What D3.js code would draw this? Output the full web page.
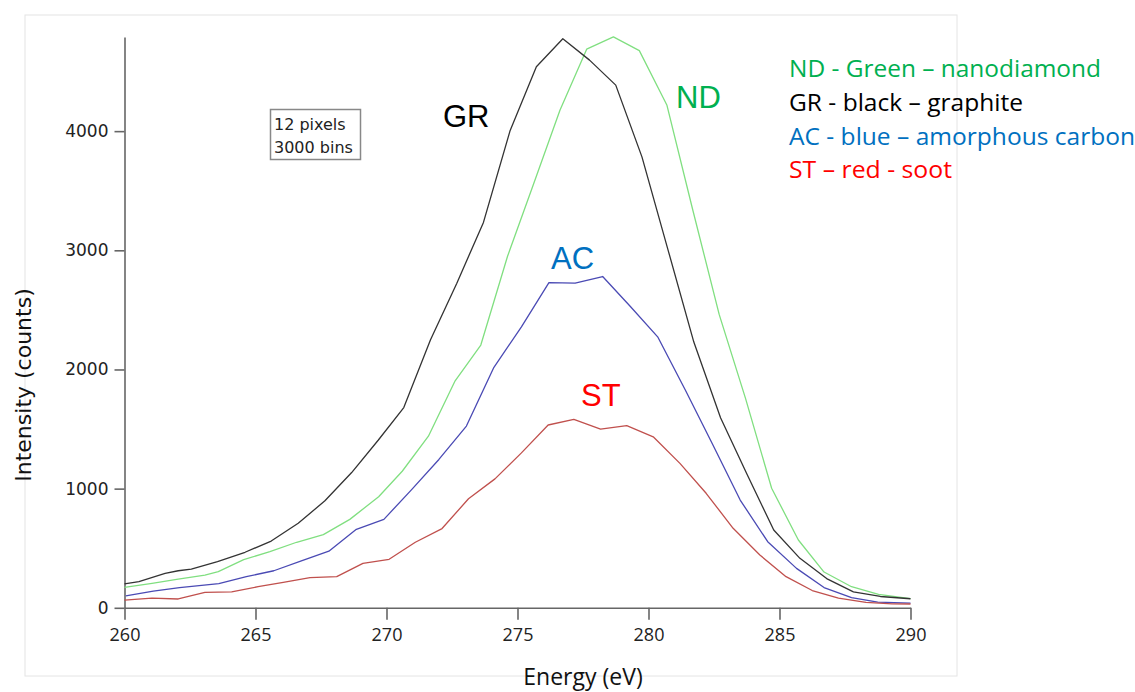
<!DOCTYPE html>
<html>
<head>
<meta charset="utf-8">
<script src="https://cdn.jsdelivr.net/npm/d3@7"></script>
<style>
  body { margin: 0; background: #fff; }
  svg { display: block; }
</style>
</head>
<body>
<svg id="chart" width="1135" height="692"></svg>
<script>
// energies (eV) and counts, one pair per sample
let nd_energy = [260, 261.05, 262.05, 263.07, 263.58, 264.55, 265.55, 266.57, 267.59, 268.6, 269.7, 270.6, 271.6, 272.62, 273.6, 274.62, 275.62, 276.62, 277.64, 278.66, 279.65, 280.7, 281.7, 282.7, 283.7, 284.7, 285.72, 286.7, 287.75, 288.78, 290]
let nd_counts = [172, 205, 241, 275, 303, 404, 471, 550, 614, 742, 932, 1146, 1440, 1905, 2205, 2950, 3560, 4176, 4688, 4791, 4676, 4220, 3330, 2460, 1760, 1003, 569, 300, 177, 112, 77]

let gr_energy = [260, 260.55, 261.55, 262.05, 262.55, 263.55, 264.6, 265.6, 266.63, 267.65, 268.67, 269.69, 270.66, 271.68, 272.68, 273.7, 274.72, 275.72, 276.73, 277.75, 278.75, 279.75, 280.75, 281.73, 282.75, 283.76, 284.78, 285.78, 286.8, 287.82, 288.85, 290]
let gr_counts = [200, 219, 289, 311, 325, 387, 466, 560, 709, 898, 1135, 1408, 1680, 2250, 2722, 3234, 4006, 4540, 4775, 4596, 4386, 3784, 3000, 2230, 1595, 1120, 653, 415, 245, 133, 95, 76]

let ac_energy = [260.05, 261.1, 262.1, 263.6, 264.65, 265.7, 266.75, 267.8, 268.85, 269.9, 270.95, 272, 273.05, 274.1, 275.15, 276.2, 277.2, 278.25, 279.3, 280.35, 281.4, 282.45, 283.5, 284.55, 285.65, 286.7, 287.75, 288.75, 290]
let ac_counts = [100, 140, 170, 203, 261, 311, 393, 475, 659, 742, 990, 1245, 1525, 2018, 2358, 2728, 2725, 2780, 2530, 2274, 1830, 1370, 904, 555, 331, 170, 85, 48, 40]

let st_energy = [260, 261.05, 262.05, 263.07, 264.09, 265.1, 266.06, 267.08, 268.1, 269.1, 270.1, 271.1, 272.12, 273.13, 274.14, 275.15, 276.17, 277.15, 278.17, 279.17, 280.18, 281.2, 282.2, 283.23, 284.25, 285.25, 286.25, 287.25, 288.3, 289.3, 290]
let st_counts = [65, 82, 74, 130, 133, 177, 214, 253, 261, 373, 407, 550, 665, 915, 1082, 1300, 1534, 1581, 1500, 1528, 1435, 1212, 961, 667, 443, 261, 145, 82, 45, 33, 32]

let x_ticks = [260, 265, 270, 275, 280, 285, 290]
let y_ticks = [0, 1000, 2000, 3000, 4000]

let legend_lines = [
  "ND - Green \u2013 nanodiamond",
  "GR - black \u2013 graphite",
  "AC - blue \u2013 amorphous carbon",
  "ST \u2013 red - soot"
]
let legend_colors = ["#00b050", "#000000", "#0070c0", "#ff0000"]
let legend_widths = [312, 234, 346, 163]

let series = [
  {name: "ND", energy: nd_energy, counts: nd_counts, stroke: "#80df80", label: "#00b050", lx: 676, ly: 108},
  {name: "GR", energy: gr_energy, counts: gr_counts, stroke: "#333333", label: "#000000", lx: 443, ly: 127},
  {name: "AC", energy: ac_energy, counts: ac_counts, stroke: "#4a4ab4", label: "#0070c0", lx: 551, ly: 269},
  {name: "ST", energy: st_energy, counts: st_counts, stroke: "#c0504d", label: "#ff0000", lx: 581, ly: 406}
]

let plot = {left: 124.5, right: 910.5, top: 37, bottom: 607.8}

let svg = d3.select("#chart")

// faint frame of the pasted figure
svg.append("rect")
  .attr("x", 25).attr("y", 15)
  .attr("width", 932).attr("height", 661)
  .attr("fill", "none")
  .attr("stroke", "#e4e4e4")
  .attr("stroke-width", 1)

let x = d3.scaleLinear().domain([260, 290]).range([plot.left, plot.right])
let y = d3.scaleLinear().domain([0, 4790]).range([plot.bottom, plot.top])

// axes
let xAxis = svg.append("g")
  .attr("transform", `translate(0, ${plot.bottom})`)
  .call(d3.axisBottom(x).tickValues(x_ticks).tickFormat(d3.format("d"))
    .tickSize(12).tickSizeOuter(0).tickPadding(8))
xAxis.selectAll("text")
  .attr("font-family", "'Open Sans', sans-serif")
  .attr("font-size", 18)
  .attr("fill", "#222")

let yAxis = svg.append("g")
  .attr("transform", `translate(${plot.left}, 0)`)
  .call(d3.axisLeft(y).tickValues(y_ticks).tickFormat(d3.format("d"))
    .tickSize(10).tickSizeOuter(0).tickPadding(6))
yAxis.selectAll("text")
  .attr("font-family", "'DejaVu Sans', sans-serif")
  .attr("font-size", 17)
  .attr("fill", "#222")

svg.selectAll(".domain, .tick line")
  .attr("stroke", "#666")
  .attr("stroke-width", 1.6)

// curves
let line = d3.line()
  .x(d => x(d[0]))
  .y(d => y(d[1]))

svg.append("g")
  .selectAll("path")
  .data(series).enter()
  .append("path")
  .attr("d", s => line(d3.zip(s.energy, s.counts)))
  .attr("fill", "none")
  .attr("stroke", s => s.stroke)
  .attr("stroke-width", 1.3)
  .attr("stroke-linejoin", "round")

// curve labels
svg.append("g")
  .selectAll("text")
  .data(series).enter()
  .append("text")
  .attr("x", s => s.lx)
  .attr("y", s => s.ly)
  .attr("font-family", "'Liberation Sans', Arial, sans-serif")
  .attr("font-size", 31)
  .attr("fill", s => s.label)
  .text(s => s.name)

// note box
svg.append("rect")
  .attr("x", 270.5).attr("y", 109.5)
  .attr("width", 90).attr("height", 50)
  .attr("fill", "#fff")
  .attr("stroke", "#888")
  .attr("stroke-width", 1.5)
svg.append("text")
  .attr("x", 274).attr("y", 130)
  .attr("font-family", "'DejaVu Sans', sans-serif")
  .attr("font-size", 16)
  .attr("fill", "#222")
  .text("12 pixels")
svg.append("text")
  .attr("x", 274).attr("y", 153)
  .attr("font-family", "'DejaVu Sans', sans-serif")
  .attr("font-size", 16)
  .attr("fill", "#222")
  .text("3000 bins")

// legend text
svg.append("g")
  .selectAll("text")
  .data(legend_lines).enter()
  .append("text")
  .attr("x", 789)
  .attr("y", (d, i) => 77 + i * 33.8)
  .attr("font-family", "'Open Sans', sans-serif")
  .attr("font-size", 24)
  .attr("fill", (d, i) => legend_colors[i])
  .attr("textLength", (d, i) => legend_widths[i])
  .attr("lengthAdjust", "spacingAndGlyphs")
  .text(d => d)

// axis titles
svg.append("text")
  .attr("transform", "translate(31, 385) rotate(-90)")
  .attr("text-anchor", "middle")
  .attr("font-family", "'DejaVu Sans', sans-serif")
  .attr("font-size", 22)
  .attr("fill", "#111")
  .text("Intensity (counts)")

svg.append("text")
  .attr("x", 583).attr("y", 685)
  .attr("text-anchor", "middle")
  .attr("font-family", "'Open Sans', sans-serif")
  .attr("font-size", 23)
  .attr("fill", "#111")
  .text("Energy (eV)")
</script>
</body>
</html>
